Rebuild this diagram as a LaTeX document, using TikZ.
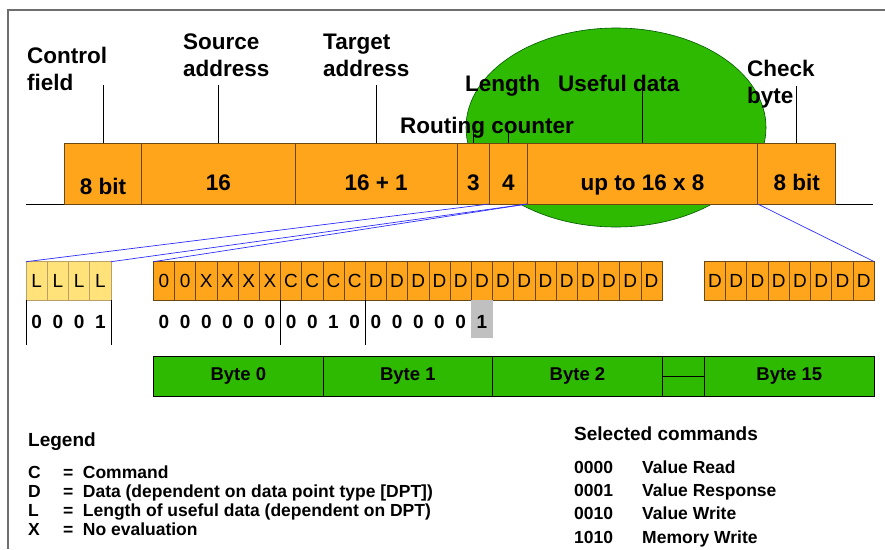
\documentclass[tikz,border=0pt]{standalone}
\usepackage{fontspec}
\setmainfont{Liberation Sans}
\usepackage[rgb]{xcolor}
\usetikzlibrary{positioning}
\definecolor{fieldorange}{RGB}{255,165,28}
\definecolor{cellborder}{RGB}{105,72,20}
\definecolor{lenyellow}{RGB}{255,226,122}
\definecolor{lenborder}{RGB}{185,160,105}
\definecolor{bytegreen}{RGB}{46,186,0}
\definecolor{zoomblue}{RGB}{45,45,255}
\definecolor{framegray}{RGB}{110,110,110}
\definecolor{hlgray}{RGB}{192,192,192}

\tikzset{
  field/.style={draw=cellborder, fill=fieldorange, line width=0.8pt, minimum height=61pt,
    inner sep=0pt, outer sep=0pt, text height=47pt, text depth=14pt,
    font=\fontsize{22.5}{26}\selectfont\bfseries},
  toplabel/.style={inner sep=0pt, align=left, anchor=base west,
    font=\fontsize{22.5}{26.5}\selectfont\bfseries},
  tick/.style={line width=0.8pt},
  bitcell/.style={draw=cellborder, fill=fieldorange, line width=0.8pt, minimum width=21.2pt,
    minimum height=38.3pt, inner sep=0pt, outer sep=0pt, anchor=north west,
    font=\fontsize{19}{20}\selectfont},
  lencell/.style={bitcell, draw=lenborder, fill=lenyellow, minimum width=21.25pt},
  bitval/.style={inner sep=0pt, anchor=base, font=\fontsize{19}{20}\selectfont\bfseries},
  zoomline/.style={zoomblue, line width=0.7pt},
  bytebox/.style={draw=black, fill=bytegreen, line width=0.8pt, minimum height=39.3pt,
    inner sep=0pt, outer sep=0pt, anchor=north west,
    font=\fontsize{18.5}{20}\selectfont\bfseries},
  legendhead/.style={inner sep=0pt, anchor=base west, font=\fontsize{19}{20}\selectfont\bfseries},
  legendtext/.style={inner sep=0pt, anchor=base west, font=\fontsize{17.5}{19}\selectfont\bfseries}
}

\begin{document}
\begin{tikzpicture}[x=1pt, y=-1pt]
  \useasboundingbox (0,0) rectangle (885,549);
  % frame
  \draw[framegray, line width=1.6pt] (885,10) -- (8,10) -- (8,549);
  % highlighted useful data
  \draw[green!35!black, fill=bytegreen, line width=0.6pt] (616,127.5) ellipse [x radius=150pt, y radius=99.5pt];

  % telegram fields
  \node[field, anchor=north west, minimum width=77.4pt, text height=51pt, text depth=10pt] (ctrl) at (64.3,143) {8 bit};
  \node[field, minimum width=153.3pt, right=0pt of ctrl] (src) {16};
  \node[field, minimum width=162.3pt, right=0pt of src] (tgt) {16 + 1};
  \node[field, minimum width=32pt, right=0pt of tgt] (rout) {3};
  \node[field, minimum width=38pt, right=0pt of rout] (len) {4};
  \node[field, minimum width=230.4pt, right=0pt of len] (data) {up to 16 x 8};
  \node[field, minimum width=78pt, right=0pt of data] (chk) {8 bit};
  \draw[tick] (ctrl.south west) -- ++(-38,0);
  \draw[tick] (chk.south east) -- ++(37,0);

  % field labels (base = last line)
  \node[toplabel] (lctrl) at (27,90) {Control\\field};
  \node[toplabel] (lsrc) at (183,76) {Source\\address};
  \node[toplabel] (ltgt) at (323,76) {Target\\address};
  \node[toplabel] (lrout) at (400,133) {Routing counter};
  \node[toplabel] (llen) at (465,91) {Length};
  \node[toplabel] (ldata) at (558,91) {Useful data};
  \node[toplabel] (lchk) at (747,103) {Check\\byte};
  \draw[tick] (ctrl.north) -- ++(0,-58);
  \draw[tick] (src.north) -- ++(0,-58);
  \draw[tick] (tgt.north) -- ++(0,-58);
  \draw[tick] (rout.north) -- ++(0,-15);
  \draw[tick] (len.north) -- ++(0,-11);
  \draw[tick] (data.north) -- ++(0,-55);
  \draw[tick] (chk.north) -- ++(0,-57);

  % bit cells
  \foreach \i in {1,...,4}
    \node[lencell] (l\i) at ({26+(\i-1)*21.25},261.7) {L};
  \foreach \c [count=\i] in {0,0,X,X,X,X,C,C,C,C,D,D,D,D,D,D,D,D,D,D,D,D,D,D}
    \node[bitcell] (b\i) at ({153.3+(\i-1)*21.2},261.7) {\c};
  \foreach \i in {1,...,8}
    \node[bitcell, minimum width=21.25pt] (e\i) at ({704.3+(\i-1)*21.25},261.7) {D};

  \draw[zoomline] (len.south west) -- (l1.north west);
  \draw[zoomline] (len.south east) -- (l4.north east);
  \draw[zoomline] (data.south west) -- (b1.north west);
  \draw[zoomline] (data.south east) -- (e8.north east);

  % example values
  \fill[hlgray] (b16.south west) rectangle ([yshift=-38pt]b16.south east);
  \foreach \v [count=\i] in {0,0,0,1}
    \node[bitval] (lv\i) at ([yshift=-28pt]l\i.south) {\v};
  \foreach \v [count=\i] in {0,0,0,0,0,0,0,0,1,0,0,0,0,0,0,1}
    \node[bitval] (bv\i) at ([yshift=-28pt]b\i.south) {\v};
  \draw[tick] (l1.south west) -- ++(0,45);
  \draw[tick] (l4.south east) -- ++(0,45);
  \draw[tick] (b6.south east) -- ++(0,45);
  \draw[tick] (b10.south east) -- ++(0,45);

  % bytes
  \node[bytebox, minimum width=170pt] (byte0) at (153.3,356.7) {Byte 0};
  \node[bytebox, minimum width=169pt, right=0pt of byte0] (byte1) {Byte 1};
  \node[bytebox, minimum width=170.4pt, right=0pt of byte1] (byte2) {Byte 2};
  \node[bytebox, minimum width=41.6pt, right=0pt of byte2] (gap) {};
  \node[bytebox, minimum width=170pt, right=0pt of gap] (byte15) {Byte 15};
  \draw[tick] (gap.west) -- (gap.east);

  % legend
  \node[legendhead] (leghead) at (28,446) {Legend};
  \foreach \k/\t [count=\i] in {C/Command, D/Data (dependent on data point type [DPT]),
      L/Length of useful data (dependent on DPT), X/No evaluation} {
    \node[legendtext] (key\i) at (28,{478.3+(\i-1)*19.2}) {\k};
    \node[legendtext] (eq\i) at (63,{478.3+(\i-1)*19.2}) {=};
    \node[legendtext] (def\i) at (82.7,{478.3+(\i-1)*19.2}) {\t};
  }

  % commands
  \node[legendhead] (cmdhead) at (574,440) {Selected commands};
  \foreach \c/\t [count=\i] in {0000/Value Read, 0001/Value Response, 0010/Value Write, 1010/Memory Write} {
    \node[legendtext] (code\i) at (574,{473.3+(\i-1)*23.3}) {\c};
    \node[legendtext] (cmd\i) at (642,{473.3+(\i-1)*23.3}) {\t};
  }
\end{tikzpicture}
\end{document}
